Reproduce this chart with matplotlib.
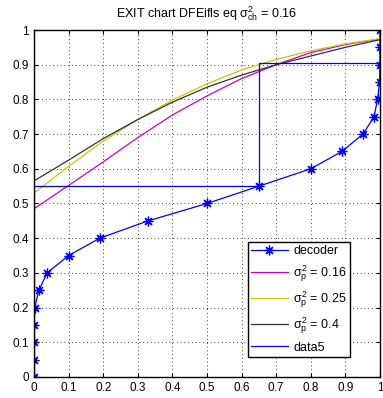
import numpy as np
import matplotlib
matplotlib.use('Agg')
import matplotlib.pyplot as plt

plt.rcParams['font.family'] = ['Liberation Sans', 'DejaVu Sans']
plt.rcParams['mathtext.fontset'] = 'custom'
plt.rcParams['mathtext.rm'] = 'Liberation Sans'
plt.rcParams['mathtext.it'] = 'Liberation Sans'

# decoder curve (x = extrinsic in, y = extrinsic out)
dec_y = [0, 0.05, 0.1, 0.15, 0.2, 0.25, 0.3, 0.35, 0.4, 0.45, 0.5, 0.55, 0.6,
         0.65, 0.7, 0.75, 0.8, 0.85, 0.9, 0.95, 1.0]
dec_x = [0, 0, 0, 0, 0.002, 0.014, 0.038, 0.10, 0.19, 0.33, 0.50, 0.65, 0.80,
         0.89, 0.951, 0.983, 0.993, 0.999, 1.0, 1.0, 1.0]

# equalizer curves
eq_x = [0, 0.1, 0.2, 0.3, 0.4, 0.5, 0.6, 0.7, 0.8, 0.9, 1.0]
eq_016 = [0.485, 0.552, 0.620, 0.690, 0.755, 0.810, 0.860, 0.900, 0.935, 0.958, 0.974]
eq_025 = [0.530, 0.607, 0.680, 0.742, 0.798, 0.845, 0.885, 0.915, 0.940, 0.960, 0.975]
eq_040 = [0.565, 0.625, 0.687, 0.742, 0.792, 0.835, 0.870, 0.900, 0.925, 0.950, 0.972]

# trajectory
traj_x = [0, 0, 0.65, 0.65, 1.0, 1.0]
traj_y = [0, 0.549, 0.549, 0.904, 0.904, 0.975]

fig = plt.figure(figsize=(3.83, 3.98), dpi=100)
ax = fig.add_axes([0.0888, 0.0528, 0.9032, 0.8718])

ax.plot(dec_x, dec_y, '-', marker=(8, 2, 0), color='#0000ff', lw=0.9, ms=7,
        mew=0.9, label='decoder')
ax.plot(eq_x, eq_016, color='#cc00cc', lw=0.9, label=r'$\sigma_p^2$ = 0.16')
ax.plot(eq_x, eq_025, color='#c8c800', lw=0.9, label=r'$\sigma_p^2$ = 0.25')
ax.plot(eq_x, eq_040, color='#333333', lw=0.9, label=r'$\sigma_p^2$ = 0.4')
ax.plot(traj_x, traj_y, color='#0000ff', lw=0.9, label='data5')

ticks = np.round(np.arange(0, 1.01, 0.1), 1)
labels = ['0'] + ['%.1f' % t for t in ticks[1:-1]] + ['1']
ax.set_xticks(ticks)
ax.set_xticklabels(labels)
ax.set_yticks(ticks)
ax.set_yticklabels(labels)
ax.set_xlim(0, 1)
ax.set_ylim(0, 1)
ax.tick_params(direction='in', length=3, labelsize=8.5, top=True, right=True)
ax.grid(True, color='black', linestyle=(0, (1, 3.5)), linewidth=0.6)
for s in ax.spines.values():
    s.set_linewidth(1.0)

ax.set_title(r'EXIT chart DFEifls eq $\sigma_{ch}^2$ = 0.16', fontsize=9, pad=9)

leg = ax.legend(loc='lower right', bbox_to_anchor=(0.913, 0.058), borderaxespad=0,
                fontsize=9, fancybox=False, edgecolor='black', framealpha=1,
                handlelength=3.0, handletextpad=0.4, labelspacing=0.45,
                borderpad=0.25)
leg.get_frame().set_linewidth(1.0)

fig.savefig('out.png', dpi=100)
